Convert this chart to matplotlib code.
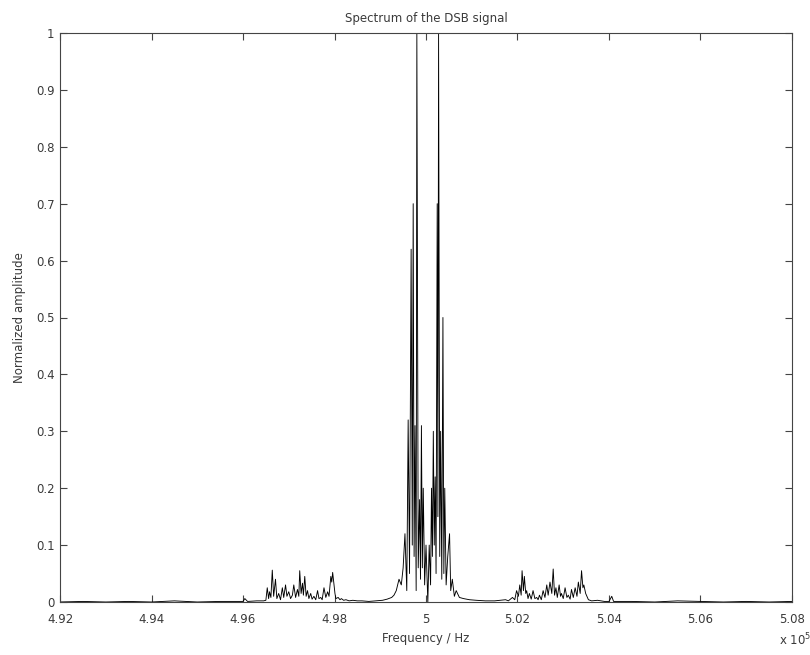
import numpy as np
import matplotlib.pyplot as plt
from matplotlib.ticker import FuncFormatter

# spectrum samples (frequency in kHz, normalized amplitude)
base_left_f = [492.0, 492.5, 493.0, 493.5, 494.0, 494.5, 495.0, 495.5, 496.0, 496.04, 496.1, 496.3, 496.45]
base_left_a = [0.0, 0.001, 0.0, 0.001, 0.0, 0.002, 0.0, 0.001, 0.001, 0.006, 0.001, 0.002, 0.002]

lsb_f = [496.5, 496.53, 496.56, 496.58, 496.61, 496.64, 496.67, 496.71, 496.74, 496.78, 496.82,
         496.86, 496.89, 496.93, 496.96, 497.0, 497.04, 497.08, 497.11, 497.15, 497.19, 497.22,
         497.24, 497.27, 497.3, 497.32, 497.35, 497.38, 497.41, 497.44, 497.48, 497.51, 497.55,
         497.59, 497.63, 497.66, 497.7, 497.73, 497.77, 497.81, 497.85, 497.88, 497.92, 497.94,
         497.96, 497.99, 498.01, 498.03, 498.08, 498.12, 498.15, 498.2, 498.25, 498.32, 498.4,
         498.5, 498.6, 498.75, 498.9]
lsb_a = [0.003, 0.025, 0.006, 0.018, 0.008, 0.056, 0.01, 0.04, 0.006, 0.015, 0.004,
         0.025, 0.008, 0.03, 0.01, 0.018, 0.006, 0.012, 0.03, 0.008, 0.022, 0.01,
         0.055, 0.015, 0.033, 0.012, 0.045, 0.01, 0.02, 0.006, 0.015, 0.005, 0.01,
         0.004, 0.02, 0.006, 0.008, 0.004, 0.025, 0.008, 0.018, 0.01, 0.045, 0.035,
         0.052, 0.03, 0.015, 0.006, 0.008, 0.004, 0.006, 0.003, 0.004, 0.002, 0.003,
         0.002, 0.002, 0.001, 0.002]

center_f = [499.05, 499.15, 499.25, 499.3, 499.35, 499.41, 499.46, 499.5, 499.54, 499.58,
            499.61, 499.64, 499.675, 499.7, 499.72, 499.74, 499.76, 499.785, 499.8, 499.83,
            499.86, 499.88, 499.9, 499.92, 499.94, 499.97, 500.0, 500.04, 500.07, 500.1,
            500.12, 500.14, 500.16, 500.18, 500.2, 500.22, 500.245, 500.26, 500.275, 500.3,
            500.32, 500.345, 500.37, 500.39, 500.41, 500.44, 500.475, 500.515, 500.54, 500.575,
            500.62, 500.66, 500.73, 500.82, 500.95, 501.1, 501.3]
center_a = [0.003, 0.005, 0.008, 0.012, 0.02, 0.04, 0.03, 0.06, 0.12, 0.02,
            0.32, 0.05, 0.62, 0.1, 0.7, 0.08, 0.31, 0.02, 1.0, 0.06,
            0.18, 0.04, 0.31, 0.06, 0.2, 0.03, 0.1, 0.0, 0.1, 0.03,
            0.2, 0.08, 0.3, 0.1, 0.22, 0.05, 0.7, 0.15, 1.0, 0.08,
            0.3, 0.04, 0.5, 0.05, 0.2, 0.03, 0.08, 0.12, 0.02, 0.04,
            0.01, 0.02, 0.008, 0.006, 0.004, 0.003, 0.002]

usb_f = [501.5, 501.74, 501.8, 501.89, 501.94, 501.98, 502.02, 502.05, 502.08, 502.1, 502.13,
         502.15, 502.18, 502.2, 502.23, 502.26, 502.3, 502.34, 502.38, 502.42, 502.45, 502.48,
         502.52, 502.56, 502.6, 502.64, 502.67, 502.71, 502.75, 502.78, 502.81, 502.84, 502.87,
         502.91, 502.94, 502.96, 503.0, 503.04, 503.08, 503.11, 503.15, 503.18, 503.22, 503.26,
         503.3, 503.33, 503.37, 503.4, 503.43, 503.45, 503.49, 503.55, 503.62, 503.75, 503.9,
         504.0, 504.06, 504.1]
usb_a = [0.002, 0.004, 0.002, 0.008, 0.004, 0.02, 0.01, 0.03, 0.012, 0.055, 0.02,
         0.045, 0.015, 0.02, 0.006, 0.015, 0.005, 0.02, 0.006, 0.008, 0.004, 0.012,
         0.004, 0.02, 0.008, 0.03, 0.012, 0.035, 0.015, 0.058, 0.012, 0.025, 0.008,
         0.03, 0.01, 0.015, 0.006, 0.025, 0.008, 0.012, 0.005, 0.022, 0.008, 0.025,
         0.01, 0.035, 0.015, 0.055, 0.025, 0.03, 0.015, 0.004, 0.002, 0.003, 0.001,
         0.001, 0.01, 0.001]

base_right_f = [504.5, 505.0, 505.5, 506.0, 506.5, 507.0, 507.5, 508.0]
base_right_a = [0.001, 0.0, 0.002, 0.001, 0.0, 0.001, 0.0, 0.001]

xtick_vals = [4.92, 4.94, 4.96, 4.98, 5.0, 5.02, 5.04, 5.06, 5.08]
ytick_vals = [0, 0.1, 0.2, 0.3, 0.4, 0.5, 0.6, 0.7, 0.8, 0.9, 1]

freq = np.array(base_left_f + lsb_f + center_f + usb_f + base_right_f) * 1e3
amp = np.array(base_left_a + lsb_a + center_a + usb_a + base_right_a)

txt = '#3a3a3a'
fig = plt.figure(figsize=(8.1, 6.55), dpi=100)
ax = fig.add_axes([60/810, 53/655, 732/810, 569/655])
ax.plot(freq, amp, color='black', lw=0.65)

ax.set_xlim(4.92e5, 5.08e5)
ax.set_ylim(0, 1)
ax.set_xticks(np.array(xtick_vals) * 1e5)
ax.xaxis.set_major_formatter(FuncFormatter(lambda v, p: f'{v/1e5:g}'))
ax.set_yticks(ytick_vals)
ax.yaxis.set_major_formatter(FuncFormatter(lambda v, p: f'{v:g}'))
ax.tick_params(direction='in', top=True, right=True, length=5, width=0.8,
               labelsize=8.5, labelcolor=txt, color='#444444')
ax.tick_params(axis='x', pad=8)
ax.tick_params(axis='y', pad=4)
for s in ax.spines.values():
    s.set_linewidth(0.8)
    s.set_color('#444444')

ax.set_title('Spectrum of the DSB signal', fontsize=8.5, color=txt, pad=8)
ax.set_xlabel('Frequency / Hz', fontsize=8.5, color=txt, labelpad=4)
ax.set_ylabel('Normalized amplitude', fontsize=8.5, color=txt, labelpad=7)
fig.text(795/810, 1 - 640/655, r'x 10$^5$', fontsize=8.5, color=txt, ha='center', va='center')

fig.savefig('out.png', dpi=100, facecolor='w')
